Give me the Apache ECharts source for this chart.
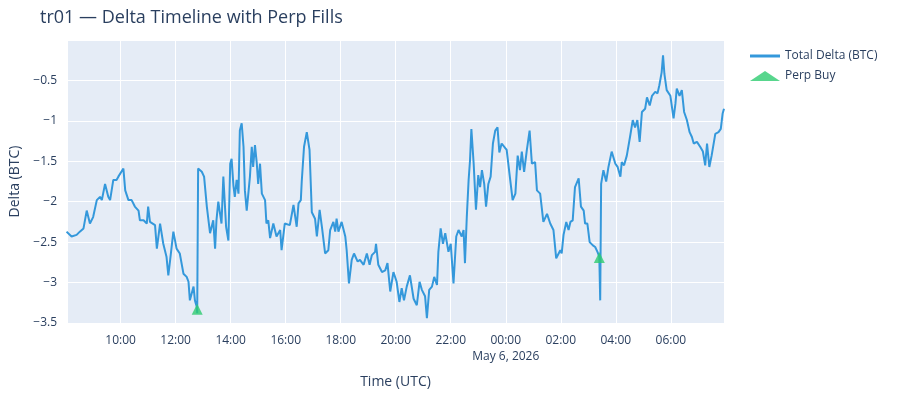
<!DOCTYPE html>
<html><head><meta charset="utf-8">
<script src="https://cdn.jsdelivr.net/npm/echarts@6/dist/echarts.min.js"></script>
<style>html,body{margin:0;padding:0;background:#fff}#c{width:900px;height:400px}</style>
</head><body><div id="c"></div>
<script>
// minutes after 2026-05-05 08:00 UTC
const deltaMinutes = [2,13,24,31,39,46,53,60,68,75,79,86,93,97,104,111,115,119,126,130,137,144,151,159,162,170,177,180,184,195,199,206,213,220,224,228,235,242,249,257,264,268,271,279,282,286,287,
289,297,302,308,315,322,326,329,333,340,344,350,355,359,362,366,369,373,377,380,384,388,391,395,402,406,409,413,417,420,424,428,435,438,442,446,453,460,468,471,478,489,
497,504,508,513,515,520,526,532,537,544,548,554,559,566,573,577,584,588,591,595,602,610,613,618,624,629,637,642,650,657,663,668,675,677,682,690,697,702,708,715,722,728,733,738,744,751,759,766,772,777,784,788,793,799,804,810,813,818,823,828,835,840,846,852,857,864,868,871,875,879,882,885,890,895,900,904,908,913,917,922,927,932,937,942,946,951,962,
968,975,981,986,991,995,1000,1006,1012,1017,1024,1028,1035,1042,1050,1057,1064,1070,1079,1082,1086,1092,1097,1101,1106,1111,1119,1124,1130,1133,1138,1143,1150,1155,1160,1164,1166,1168,1173,1179,1184,1191,1199,1204,1210,1213,1218,1224,1231,1237,1242,1247,1252,1257,1264,1268,1274,1279,1286,1291,1295,1300,1303,1306,1311,1319,1326,1330,1333,1339,1344,1349,1355,1361,1366,1370,1377,1384,1390,1395,1399,1404,1409,1417,1424,1429,1433,1436];
const deltaValues = [-2.37,-2.43,-2.41,-2.37,-2.33,-2.11,-2.27,-2.19,-1.98,-1.94,-1.98,-1.78,-1.94,-1.98,-1.73,-1.73,-1.69,-1.67,-1.59,-1.86,-1.98,-1.98,-2.06,-2.11,-2.23,-2.23,-2.27,-2.06,-2.25,-2.29,-2.58,-2.27,-2.52,-2.68,-2.91,-2.72,-2.37,-2.58,-2.64,-2.89,-2.93,-2.99,-3.22,-3.05,-3.22,-3.30,-3.38,
-1.59,-1.63,-1.69,-2.06,-2.39,-2.23,-2.58,-2.23,-2.00,-2.27,-1.69,-2.31,-2.48,-1.53,-1.47,-1.80,-1.94,-1.73,-1.90,-1.12,-1.03,-1.32,-1.86,-2.11,-1.69,-1.32,-1.57,-1.30,-1.53,-1.78,-1.53,-1.90,-1.98,-2.27,-2.23,-2.45,-2.27,-2.43,-2.35,-2.60,-2.27,-2.29,
-2.04,-2.31,-2.02,-1.98,-1.75,-1.32,-1.14,-1.36,-2.13,-2.21,-2.43,-2.10,-2.31,-2.64,-2.60,-2.35,-2.25,-2.37,-2.21,-2.37,-2.25,-2.43,-2.60,-3.01,-2.72,-2.64,-2.74,-2.72,-2.78,-2.64,-2.78,-2.66,-2.62,-2.52,-2.78,-2.87,-2.85,-2.76,-3.11,-2.87,-2.99,-3.24,-3.07,-3.22,-3.05,-2.91,-3.20,-3.28,-2.99,-3.09,-3.17,-3.44,-3.09,-3.05,-2.93,-3.03,-2.62,-2.33,-2.52,-2.39,-2.62,-2.52,-3.01,-2.43,-2.35,-2.43,-2.35,-2.76,-2.19,-1.73,-1.49,-1.10,-1.53,-2.10,-1.67,-1.82,-1.61,-1.78,-2.06,-1.78,-1.69,-1.28,-1.12,-1.08,-1.39,-1.28,-1.36,
-1.65,-1.98,-1.90,-1.43,-1.61,-1.38,-1.63,-1.36,-1.12,-1.53,-1.51,-1.86,-1.90,-2.25,-2.15,-2.27,-2.35,-2.70,-2.60,-2.64,-2.41,-2.25,-2.35,-2.25,-2.23,-1.82,-1.71,-2.06,-2.11,-2.27,-2.27,-2.50,-2.54,-2.56,-2.62,-2.68,-3.22,-1.78,-1.61,-1.75,-1.57,-1.38,-1.53,-1.57,-1.69,-1.51,-1.55,-1.43,-1.20,-0.99,-1.08,-0.99,-1.26,-0.89,-0.85,-0.71,-0.81,-0.69,-0.64,-0.66,-0.56,-0.40,-0.19,-0.42,-0.62,-0.69,-0.97,-0.79,-0.60,-0.69,-0.62,-0.89,-0.99,-1.14,-1.20,-1.28,-1.26,-1.32,-1.38,-1.55,-1.28,-1.57,-1.43,-1.16,-1.14,-1.10,-0.91,-0.85,-0.87];
const fillMinutes = [287,1164];
const fillValues = [-3.33,-2.69];
const yTicks = [-3.5,-3,-2.5,-2,-1.5,-1,-0.5];

const T0 = Date.UTC(2026,4,5,8,0);
const toTs = m => T0 + m*60000;
const lineData = deltaMinutes.map((m,i)=>[toTs(m), deltaValues[i]]);
const fillData = fillMinutes.map((m,i)=>[toTs(m), fillValues[i]]);
const pad = n => String(n).padStart(2,'0');
const font = '"Open Sans", "Noto Sans", sans-serif';
const txt = '#2a3f5f';

const chart = echarts.init(document.getElementById('c'));
chart.setOption({
  animation:false,
  textStyle:{fontFamily:font},
  title:{text:'tr01 — Delta Timeline with Perp Fills', left:35, top:4, textStyle:{fontFamily:font,fontSize:18,fontWeight:'normal',color:txt}},
  legend:{left:745, top:45, orient:'vertical', itemGap:8, textStyle:{fontFamily:font,fontSize:12,color:txt},
    data:[{name:'Total Delta (BTC)',icon:'path://M0,0H30V3H0Z',itemStyle:{color:'#3498db'}},{name:'Perp Buy',icon:'triangle'}], itemWidth:30, itemHeight:10},
  grid:{left:67, right:176, top:40, bottom:77, backgroundColor:'#E5ECF6', show:true, borderWidth:0},
  xAxis:{type:'time', min:toTs(3), max:toTs(1436), minInterval:3*3600000, maxInterval:3*3600000,
    name:'Time (UTC)', nameLocation:'middle', nameGap:52, nameTextStyle:{fontSize:14,color:txt,fontFamily:font},
    axisLine:{show:false}, axisTick:{show:false},
    splitLine:{show:true,lineStyle:{color:'#fff',width:1}},
    axisLabel:{color:txt,fontSize:12,margin:10,lineHeight:16,fontFamily:font,hideOverlap:false,showMinLabel:false,showMaxLabel:false,
      formatter:function(v){const d=new Date(v);const h=d.getUTCHours();const s=pad(h)+':'+pad(d.getUTCMinutes());
        if(h===9&&d.getUTCDate()===5) return s+'\nMay 5, 2026';
        if(h===0) return s+'\nMay 6, 2026';
        return s;}}},
  yAxis:{type:'value', min:-3.5, max:0, interval:0.5,
    name:'Delta (BTC)', nameLocation:'middle', nameGap:45, nameTextStyle:{fontSize:14,color:txt,fontFamily:font},
    axisLine:{show:false}, axisTick:{show:false},
    splitLine:{lineStyle:{color:'#fff',width:1}},
    axisLabel:{color:txt,fontSize:12,margin:10,fontFamily:font,formatter:v=>yTicks.indexOf(v)>=0?String(v).replace('-','−'):''}},
  series:[
    {name:'Total Delta (BTC)', type:'line', data:lineData, showSymbol:false, lineStyle:{color:'#3498db',width:2}, itemStyle:{color:'#3498db'}},
    {name:'Perp Buy', type:'scatter', data:fillData, symbol:'triangle', symbolSize:11, itemStyle:{color:'#2ecc71'}, z:5}
  ]
});
</script></body></html>
